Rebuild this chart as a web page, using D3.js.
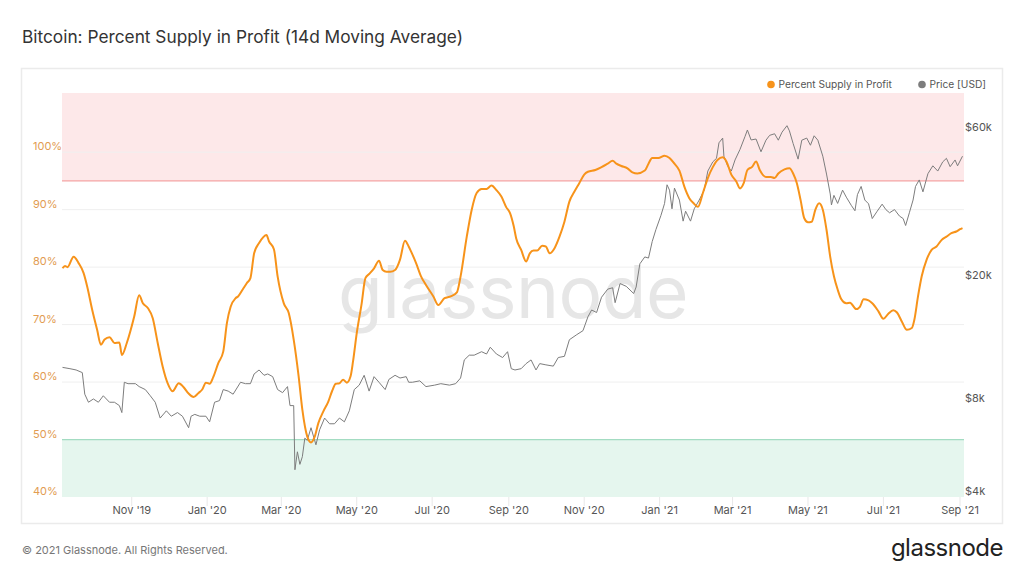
<!DOCTYPE html>
<html>
<head>
<meta charset="utf-8">
<script src="https://cdn.jsdelivr.net/npm/d3@7"></script>
<style>
  html, body { margin: 0; padding: 0; background: #fff; }
  svg { display: block; font-family: Inter, "Noto Sans", sans-serif; }
</style>
</head>
<body>
<svg id="chart" width="1024" height="576"></svg>
<script>
// ---------- DATA ----------
const chartTitle = "Bitcoin: Percent Supply in Profit (14d Moving Average)";
const seriesNames = ["Percent Supply in Profit", "Price [USD]"];

const pctDates = ["2019-09-06","2019-09-08","2019-09-10","2019-09-15","2019-09-19","2019-09-23","2019-09-26","2019-09-30","2019-10-04","2019-10-07","2019-10-10","2019-10-14","2019-10-18","2019-10-22","2019-10-24","2019-10-28","2019-11-03","2019-11-07","2019-11-10","2019-11-14","2019-11-18","2019-11-22","2019-11-26","2019-11-30","2019-12-04","2019-12-09","2019-12-13","2019-12-17","2019-12-21","2019-12-25","2019-12-28","2019-12-31","2020-01-03","2020-01-06","2020-01-10","2020-01-14","2020-01-17","2020-01-20","2020-01-24","2020-01-26","2020-01-30","2020-02-02","2020-02-05","2020-02-08","2020-02-12","2020-02-18","2020-02-20","2020-02-24","2020-02-27","2020-03-03","2020-03-07","2020-03-11","2020-03-15","2020-03-18","2020-03-22","2020-03-25","2020-03-28","2020-03-31","2020-04-04","2020-04-08","2020-04-11","2020-04-14","2020-04-17","2020-04-20","2020-04-23","2020-04-26","2020-04-28","2020-05-01","2020-05-05","2020-05-08","2020-05-11","2020-05-15","2020-05-19","2020-05-22","2020-05-25","2020-05-28","2020-06-01","2020-06-05","2020-06-09","2020-06-12","2020-06-14","2020-06-18","2020-06-22","2020-06-26","2020-07-02","2020-07-06","2020-07-11","2020-07-16","2020-07-21","2020-07-24","2020-07-29","2020-08-02","2020-08-06","2020-08-10","2020-08-14","2020-08-18","2020-08-22","2020-08-26","2020-08-30","2020-09-02","2020-09-05","2020-09-07","2020-09-11","2020-09-15","2020-09-18","2020-09-21","2020-09-24","2020-09-28","2020-10-01","2020-10-04","2020-10-08","2020-10-12","2020-10-16","2020-10-20","2020-10-24","2020-10-28","2020-11-01","2020-11-04","2020-11-10","2020-11-15","2020-11-20","2020-11-24","2020-11-27","2020-12-01","2020-12-06","2020-12-10","2020-12-14","2020-12-20","2020-12-23","2020-12-26","2020-12-31","2021-01-05","2021-01-09","2021-01-13","2021-01-17","2021-01-21","2021-01-25","2021-01-29","2021-02-01","2021-02-05","2021-02-09","2021-02-13","2021-02-17","2021-02-21","2021-02-24","2021-02-28","2021-03-04","2021-03-07","2021-03-10","2021-03-13","2021-03-17","2021-03-20","2021-03-23","2021-03-28","2021-04-01","2021-04-04","2021-04-07","2021-04-12","2021-04-16","2021-04-19","2021-04-22","2021-04-25","2021-04-28","2021-05-01","2021-05-04","2021-05-07","2021-05-10","2021-05-13","2021-05-16","2021-05-19","2021-05-22","2021-05-25","2021-05-28","2021-06-01","2021-06-04","2021-06-09","2021-06-12","2021-06-15","2021-06-19","2021-06-22","2021-06-27","2021-07-01","2021-07-05","2021-07-09","2021-07-12","2021-07-16","2021-07-20","2021-07-24","2021-07-26","2021-07-29","2021-08-01","2021-08-05","2021-08-09","2021-08-13","2021-08-17","2021-08-21","2021-08-25","2021-08-29","2021-09-01","2021-09-03"];
const pctValues = [79.8,80.2,80.0,81.8,80.7,79.0,76.6,72.6,69.1,66.5,67.4,67.8,66.8,66.9,64.7,66.8,71.4,75.1,73.7,72.9,71.1,66.8,62.7,59.8,58.4,59.8,59.1,58.0,57.4,58.1,58.7,59.9,59.7,60.9,63.3,65.3,70.3,73.1,74.6,74.9,76.2,77.2,78.1,82.4,84.2,85.6,84.5,83.1,78.4,73.7,72.0,67.4,61.0,55.2,50.5,49.5,50.5,52.9,54.9,56.6,58.4,59.7,59.8,60.4,59.9,61.0,63.6,68.5,73.7,78.1,78.8,79.8,81.1,79.5,79.2,79.2,79.5,81.3,84.6,83.6,82.7,80.7,78.4,76.9,74.9,73.4,74.6,74.9,75.6,78.4,85.3,90.0,92.9,93.6,93.6,94.2,93.4,92.3,90.4,89.4,87.1,85.0,83.0,81.0,82.4,82.9,82.9,83.7,83.6,82.4,83.3,85.3,87.9,91.4,93.1,94.6,96.1,96.6,96.9,97.4,98.0,98.5,98.0,97.6,97.2,96.5,96.3,96.8,98.0,99.0,99.0,99.4,99.0,98.0,96.8,94.0,92.0,91.0,90.5,92.9,95.5,97.4,98.7,99.1,98.4,96.1,94.9,93.7,94.6,96.9,97.5,98.4,96.9,95.7,95.7,95.5,96.3,97.0,97.2,96.3,94.6,91.7,88.5,87.8,87.9,90.0,91.1,90.0,86.5,81.8,78.4,76.1,74.4,73.7,73.8,72.7,73.1,74.4,74.2,73.7,72.3,71.0,71.9,72.5,72.1,70.5,69.1,69.4,70.8,74.9,78.4,81.3,83.0,83.6,84.7,85.3,85.9,86.2,86.6,86.8];

const priceDates = ["2019-09-06","2019-09-12","2019-09-17","2019-09-22","2019-09-24","2019-09-27","2019-10-01","2019-10-05","2019-10-09","2019-10-14","2019-10-18","2019-10-22","2019-10-24","2019-10-26","2019-10-29","2019-11-04","2019-11-07","2019-11-12","2019-11-16","2019-11-20","2019-11-24","2019-11-29","2019-12-03","2019-12-08","2019-12-12","2019-12-17","2019-12-19","2019-12-22","2019-12-26","2019-12-31","2020-01-03","2020-01-07","2020-01-11","2020-01-14","2020-01-18","2020-01-22","2020-01-28","2020-02-01","2020-02-05","2020-02-08","2020-02-12","2020-02-16","2020-02-19","2020-02-23","2020-02-27","2020-03-02","2020-03-06","2020-03-08","2020-03-11","2020-03-12","2020-03-14","2020-03-16","2020-03-18","2020-03-20","2020-03-22","2020-03-25","2020-03-29","2020-04-01","2020-04-05","2020-04-09","2020-04-13","2020-04-17","2020-04-21","2020-04-25","2020-04-29","2020-05-03","2020-05-07","2020-05-11","2020-05-15","2020-05-19","2020-05-24","2020-05-27","2020-06-01","2020-06-05","2020-06-10","2020-06-12","2020-06-15","2020-06-21","2020-06-26","2020-07-03","2020-07-08","2020-07-15","2020-07-20","2020-07-24","2020-07-27","2020-07-31","2020-08-04","2020-08-10","2020-08-14","2020-08-17","2020-08-22","2020-08-27","2020-08-31","2020-09-03","2020-09-06","2020-09-11","2020-09-15","2020-09-19","2020-09-23","2020-09-26","2020-10-01","2020-10-07","2020-10-11","2020-10-16","2020-10-20","2020-10-26","2020-10-31","2020-11-04","2020-11-07","2020-11-11","2020-11-15","2020-11-20","2020-11-24","2020-11-26","2020-11-30","2020-12-05","2020-12-11","2020-12-13","2020-12-16","2020-12-20","2020-12-23","2020-12-26","2020-12-29","2021-01-02","2021-01-05","2021-01-07","2021-01-09","2021-01-11","2021-01-13","2021-01-17","2021-01-20","2021-01-22","2021-01-26","2021-01-29","2021-02-02","2021-02-06","2021-02-09","2021-02-13","2021-02-16","2021-02-18","2021-02-21","2021-02-22","2021-02-25","2021-02-28","2021-03-03","2021-03-07","2021-03-11","2021-03-13","2021-03-16","2021-03-20","2021-03-24","2021-03-28","2021-03-31","2021-04-04","2021-04-07","2021-04-10","2021-04-14","2021-04-16","2021-04-19","2021-04-23","2021-04-26","2021-04-30","2021-05-03","2021-05-06","2021-05-09","2021-05-13","2021-05-16","2021-05-19","2021-05-20","2021-05-22","2021-05-25","2021-05-29","2021-06-01","2021-06-05","2021-06-08","2021-06-10","2021-06-13","2021-06-16","2021-06-19","2021-06-22","2021-06-26","2021-06-30","2021-07-03","2021-07-06","2021-07-10","2021-07-14","2021-07-17","2021-07-19","2021-07-22","2021-07-25","2021-07-27","2021-07-30","2021-08-02","2021-08-06","2021-08-10","2021-08-14","2021-08-18","2021-08-21","2021-08-24","2021-08-28","2021-08-30","2021-09-03"];
const priceValues = [10500,10400,10300,10100,8600,8100,8300,8100,8500,8100,8100,7900,7500,9400,9300,9300,9100,8900,8500,8100,7200,7600,7300,7500,7300,6700,7300,7400,7300,7300,7000,8100,8200,8900,8800,8600,9400,9300,9300,10000,10300,9900,10000,9800,8900,8700,9100,7900,7900,4900,5600,5100,5400,6200,6100,6700,5900,6600,7200,6900,6900,7200,7000,7600,8900,9200,9900,8800,9800,9400,8900,9600,9900,9700,9800,9400,9400,9500,9100,9200,9300,9200,9300,9700,11100,11500,11500,11800,11600,12200,11600,11300,11800,10400,10300,10400,10800,11100,10300,10800,10700,10600,11300,11400,12900,13400,13800,15300,16100,15800,17700,18800,19000,17000,19600,19200,18200,19100,22700,23900,23700,26800,29300,32500,35600,40900,39300,34200,39900,36500,31200,33600,31200,34200,36500,39300,45300,48500,49800,55900,57900,50600,47100,45300,49200,53200,58500,61500,57100,57500,52300,57000,59100,59800,57000,60500,63500,61100,55600,49500,57000,57900,54900,58900,57000,50600,44300,38200,35200,37800,35600,39300,37300,35100,33700,38000,40400,36500,35500,31800,33600,35400,34000,33200,34000,32400,31800,30200,33200,36500,40400,42400,38800,44400,47100,45300,48500,49800,46800,49200,47100,50600];

const pctTicks = [40, 50, 60, 70, 80, 90, 100];
const priceTicks = [4000, 8000, 20000, 60000];
const priceTickLabels = ["$4k", "$8k", "$20k", "$60k"];
const xTickDates = ["2019-11-01","2020-01-01","2020-03-01","2020-05-01","2020-07-01","2020-09-01","2020-11-01","2021-01-01","2021-03-01","2021-05-01","2021-07-01","2021-09-01"];
const xTickLabels = ["Nov '19","Jan '20","Mar '20","May '20","Jul '20","Sep '20","Nov '20","Jan '21","Mar '21","May '21","Jul '21","Sep '21"];
const bandHigh = 95;   // upper (red) threshold
const bandLow = 50;    // lower (green) threshold
const pctDomain = [40, 110.3];
const priceDomain = [4000, 81000];
const timeDomain = ["2019-09-05T14:00", "2021-09-04T05:00"];

// ---------- CHART ----------
const parse = d3.timeParse("%Y-%m-%d");
const parseT = d3.timeParse("%Y-%m-%dT%H:%M");
const svg = d3.select("#chart");
const plot = { left: 62, right: 964, top: 93, bottom: 497 };

const x = d3.scaleTime().domain(timeDomain.map(parseT)).range([plot.left, plot.right]);
const yP = d3.scaleLinear().domain(pctDomain).range([plot.bottom, plot.top]);
const yPrice = d3.scaleLog().domain(priceDomain).range([plot.bottom, plot.top]);

const orange = "#f7931a";
const grey = "#7d7d7d";

// Title
svg.append("text").attr("x", 22).attr("y", 43)
  .attr("font-size", 17.3).attr("fill", "#333").attr("font-weight", 400)
  .text(chartTitle);

// Container border
svg.append("rect").attr("x", 21.5).attr("y", 68.5).attr("width", 981).attr("height", 455)
  .attr("fill", "none").attr("stroke", "#ebebeb").attr("stroke-width", 1.5);

// Bands
svg.append("rect").attr("x", plot.left).attr("width", plot.right - plot.left)
  .attr("y", yP(pctDomain[1])).attr("height", yP(bandHigh) - yP(pctDomain[1]))
  .attr("fill", "#fde8e9");
svg.append("rect").attr("x", plot.left).attr("width", plot.right - plot.left)
  .attr("y", yP(bandLow)).attr("height", yP(pctDomain[0]) - yP(bandLow))
  .attr("fill", "#e5f6ee");

// Grid lines
svg.append("g").selectAll("line").data(pctTicks.filter(d => d !== 40 && d !== 50)).join("line")
  .attr("x1", plot.left).attr("x2", plot.right)
  .attr("y1", d => yP(d)).attr("y2", d => yP(d))
  .attr("stroke", "#efefef").attr("stroke-width", 1);

// Threshold lines
svg.append("line").attr("x1", plot.left).attr("x2", plot.right)
  .attr("y1", yP(bandHigh)).attr("y2", yP(bandHigh))
  .attr("stroke", "#f4a4a4").attr("stroke-width", 1.2);
svg.append("line").attr("x1", plot.left).attr("x2", plot.right)
  .attr("y1", yP(bandLow)).attr("y2", yP(bandLow))
  .attr("stroke", "#a3dcc2").attr("stroke-width", 1.2);

// X ticks
const xTicks = xTickDates.map(parse);
svg.append("g").selectAll("line").data(xTicks).join("line")
  .attr("x1", d => x(d)).attr("x2", d => x(d))
  .attr("y1", plot.bottom).attr("y2", plot.bottom + 9)
  .attr("stroke", "#e8e8e8").attr("stroke-width", 1);
svg.append("g").selectAll("text").data(xTicks).join("text")
  .attr("x", d => x(d)).attr("y", 514)
  .attr("text-anchor", "middle").attr("font-size", 11).attr("fill", "#555")
  .text((d, i) => xTickLabels[i]);

// Watermark
svg.append("text").attr("x", (plot.left + plot.right) / 2).attr("y", 318)
  .attr("text-anchor", "middle").attr("font-size", 73).attr("fill", "#e6e6e6")
  .attr("font-weight", 400).attr("letter-spacing", -0.5)
  .text("glassnode");

// Left axis labels
svg.append("g").selectAll("text").data(pctTicks).join("text")
  .attr("x", 33).attr("y", d => yP(d) - 2)
  .attr("font-size", 11).attr("fill", "#e29c52")
  .text(d => d + "%");

// Right axis labels
svg.append("g").selectAll("text").data(priceTicks).join("text")
  .attr("x", 965).attr("y", d => yPrice(d) - 2)
  .attr("font-size", 11).attr("fill", "#555")
  .text((d, i) => priceTickLabels[i]);

// Price line
const priceData = priceDates.map((d, i) => ({ date: parse(d), v: priceValues[i] }));
svg.append("path").datum(priceData)
  .attr("d", d3.line().x(d => x(d.date)).y(d => yPrice(d.v)))
  .attr("fill", "none").attr("stroke", grey).attr("stroke-width", 1)
  .attr("stroke-linejoin", "round");

// Percent line
const pctData = pctDates.map((d, i) => ({ date: parse(d), v: pctValues[i] }));
svg.append("path").datum(pctData)
  .attr("d", d3.line().curve(d3.curveMonotoneX).x(d => x(d.date)).y(d => yP(d.v)))
  .attr("fill", "none").attr("stroke", orange).attr("stroke-width", 2)
  .attr("stroke-linejoin", "round");

// Legend
const legend = svg.append("g");
legend.append("circle").attr("cx", 771).attr("cy", 84.5).attr("r", 3.8).attr("fill", orange);
legend.append("text").attr("x", 778.5).attr("y", 88.2).attr("font-size", 10.2).attr("fill", "#555").text(seriesNames[0]);
legend.append("circle").attr("cx", 922).attr("cy", 84.5).attr("r", 3.8).attr("fill", grey);
legend.append("text").attr("x", 929.5).attr("y", 88.2).attr("font-size", 10.2).attr("fill", "#555").text(seriesNames[1]);

// Footer
svg.append("text").attr("x", 22).attr("y", 554).attr("font-size", 11).attr("fill", "#777")
  .text("© 2021 Glassnode. All Rights Reserved.");
svg.append("text").attr("x", 1003).attr("y", 556).attr("text-anchor", "end")
  .attr("font-size", 24).attr("fill", "#222").attr("letter-spacing", -0.5)
  .text("glassnode");
</script>
</body>
</html>
